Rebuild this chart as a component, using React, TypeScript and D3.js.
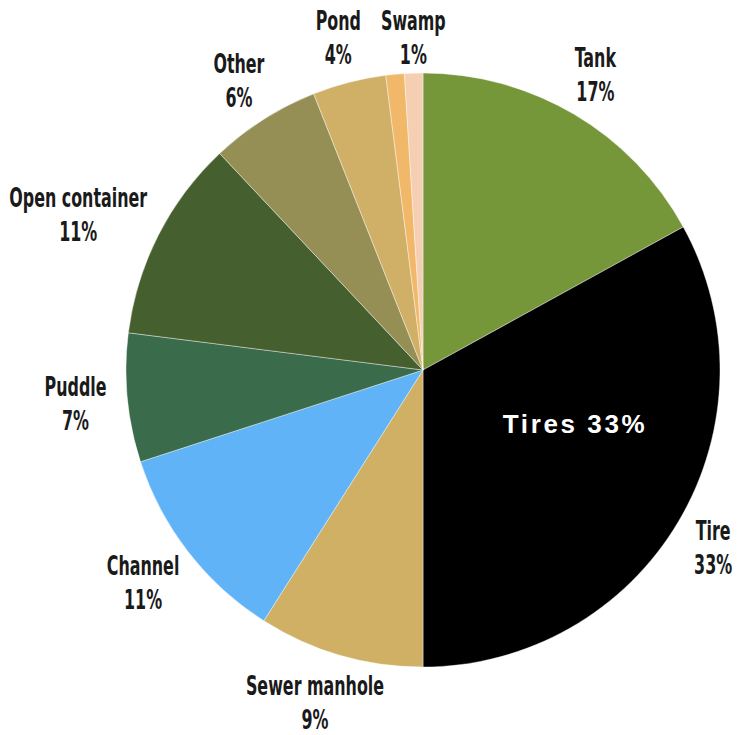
import React from "react";
import * as d3 from "d3";

const categories = ["Tank", "Tire", "Sewer manhole", "Channel", "Puddle", "Open container", "Other", "Pond", "Swamp", ""];
const values = [17, 33, 9, 11, 7, 11, 6, 4, 1, 1];
const colors = ["#76963a", "#000000", "#cfb064", "#5fb3f6", "#3a6b4b", "#465f2e", "#958f56", "#d0b067", "#f2b86a", "#f5cfb2"];
const annotation = "Tires 33%";

const W = 749;
const H = 735;
const cx = 423;
const cy = 370;
const R = 297;

const fontFam = "'DejaVu Sans Condensed', 'DejaVu Sans', sans-serif";
const fs = 26;
const sx = 0.68;
const lineH = 34;

function measure(t: string): number {
  const cv = document.createElement("canvas");
  const ctx = cv.getContext("2d");
  if (!ctx) return t.length * fs * 0.55 * sx;
  ctx.font = `bold ${fs}px ${fontFam}`;
  return ctx.measureText(t).width * sx;
}

export default function App() {
  const data = categories.map((c, i) => ({ cat: c, value: values[i], color: colors[i] }));
  const pie = d3.pie<any>().sort(null).value((d: any) => d.value);
  const arcs = pie(data);
  const arc = d3.arc<any>().innerRadius(0).outerRadius(R);

  const rin = 318;
  const halfH = 27;
  const minY = -cy + 36;
  const labels: any[] = [];
  arcs.forEach((a) => {
    if (!a.data.cat) return;
    const mid = (a.startAngle + a.endAngle) / 2;
    const s = Math.sin(mid);
    const c = -Math.cos(mid);
    const w = Math.max(measure(a.data.cat), measure(a.data.value + "%"));
    const halfW = w / 2;
    let x = s * (rin + halfW);
    const y = Math.max(minY, c * (rin + halfH));
    const prev = labels[labels.length - 1];
    if (prev && Math.abs(prev.y - y) < 2 * halfH) {
      const gap = Math.abs(x - prev.x) - (halfW + prev.halfW);
      if (gap < 20) {
        const dir = Math.sign(x - prev.x) || 1;
        x = prev.x + dir * (halfW + prev.halfW + 20);
      }
    }
    labels.push({ x, y, halfW, cat: a.data.cat, value: a.data.value });
  });

  return (
    <svg width={W} height={H} style={{ position: "absolute", left: 0, top: 0, background: "#fff" }}>
      <g transform={`translate(${cx},${cy})`}>
        {arcs.map((a, i) => (
          <path key={i} d={arc(a) as string} fill={a.data.color} stroke="#ffffff" strokeWidth={0.4} />
        ))}
        {labels.map((l, i) => (
          <g key={"l" + i} transform={`translate(${l.x},${l.y}) scale(${sx},1)`}>
            <text x={0} y={-6} textAnchor="middle" fontFamily={fontFam} fontSize={fs} fontWeight="bold" fill="#1a1a1a">
              {l.cat}
            </text>
            <text x={0} y={-6 + lineH} textAnchor="middle" fontFamily={fontFam} fontSize={fs} fontWeight="bold" fill="#1a1a1a">
              {l.value + "%"}
            </text>
          </g>
        ))}
        <text x={152} y={63} textAnchor="middle" fill="#ffffff" fontFamily="'Liberation Sans', Arial, sans-serif" fontWeight="bold" fontSize={26} letterSpacing={2.6}>
          {annotation}
        </text>
      </g>
    </svg>
  );
}
